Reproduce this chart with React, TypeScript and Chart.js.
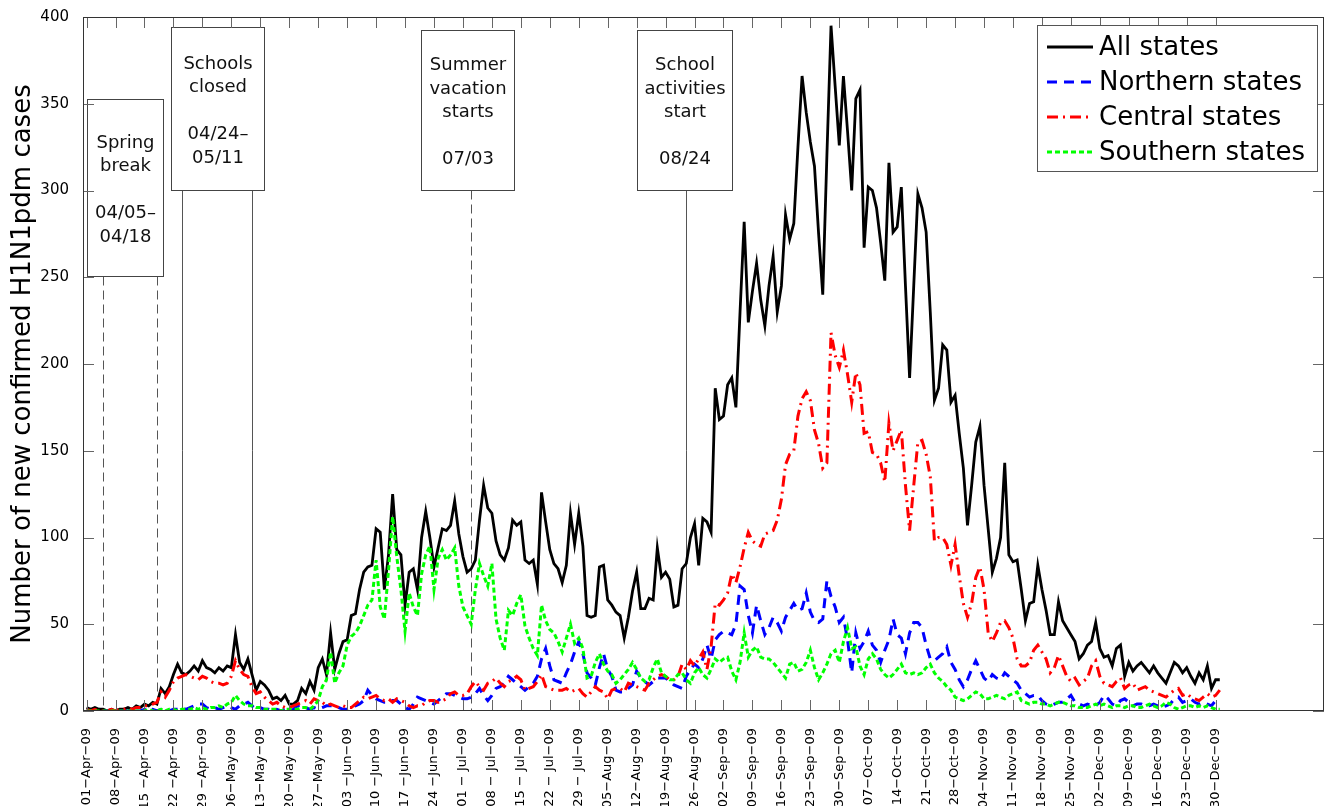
import React, { useEffect, useRef } from "react";
import { Chart, registerables } from "chart.js";

Chart.register(...registerables);

// Daily new confirmed cases, 01-Apr-09 (day 0) .. 31-Dec-09 (day 274)
const ALL_STATES = [
  2, 1, 2, 1, 1, 0, 1, 0, 1, 1,
  2, 1, 3, 2, 4, 3, 5, 4, 13, 10,
  14, 21, 27, 22, 21, 23, 26, 23, 29, 25,
  24, 22, 25, 23, 26, 25, 44, 28, 24, 30,
  21, 12, 17, 15, 12, 7, 8, 6, 9, 4,
  4, 6, 13, 10, 17, 12, 25, 30, 21, 45,
  24, 33, 40, 41, 55, 56, 70, 80, 83, 84,
  105, 103, 70, 90, 125, 93, 90, 61, 80, 82,
  70, 100, 115, 100, 83, 94, 105, 104, 107, 121,
  102, 89, 80, 82, 87, 110, 130, 117, 114, 98,
  90, 87, 94, 110, 107, 109, 87, 85, 87, 73,
  126, 109, 93, 85, 82, 74, 84, 114, 96, 114,
  95, 55, 54, 55, 83, 84, 64, 61, 57, 55,
  42, 54, 69, 80, 59, 59, 65, 64, 94, 77,
  80, 76, 60, 61, 82, 85, 100, 108, 84, 111,
  109, 103, 186, 168, 170, 188, 192, 175, 230, 282,
  224, 242, 258, 237, 222, 245, 262, 230, 245, 286,
  272, 281, 325, 366, 345, 328, 314, 275, 240, 320,
  395, 360, 326, 366, 334, 300, 353, 358, 267, 302,
  300, 290, 270, 248, 316, 276, 279, 302, 245, 192,
  245, 298, 290, 276, 230, 179, 186, 211, 208, 178,
  182, 160, 140, 107, 130, 155, 164, 130, 105, 80,
  88, 100, 143, 90, 86, 87, 70, 52, 62, 63,
  84, 70, 58, 44, 44, 63, 52, 48, 44, 40,
  30, 33, 38, 40, 51, 36, 31, 32, 26, 36,
  38, 20, 28, 23, 26, 28, 25, 22, 26, 22,
  19, 16, 22, 28, 26, 22, 25, 20, 16, 22,
  18, 26, 13, 18, 18,
];

const NORTHERN = [
  0, 0, 0, 0, 0, 0, 0, 1, 0, 0,
  0, 1, 0, 0, 1, 0, 1, 0, 1, 0,
  0, 1, 1, 2, 1, 2, 3, 4, 4, 2,
  1, 2, 1, 2, 3, 2, 1, 3, 4, 5,
  3, 1, 2, 1, 1, 0, 1, 0, 1, 0,
  1, 3, 3, 2, 1, 2, 1, 2, 3, 3,
  3, 2, 1, 1, 2, 3, 4, 6, 12, 9,
  7, 6, 5, 5, 6, 6, 4, 2, 1, 4,
  8, 7, 6, 5, 4, 6, 8, 10, 10, 9,
  8, 7, 7, 8, 10, 13, 9, 6, 9, 13,
  14, 16, 20, 18, 16, 14, 12, 14, 16, 20,
  30, 36, 26, 18, 17, 16, 22, 27, 34, 40,
  33, 22, 19, 15, 25, 33, 24, 20, 12, 11,
  11, 13, 15, 23, 19, 17, 15, 17, 19, 19,
  19, 17, 15, 14, 13, 20, 24, 27, 25, 30,
  38, 30, 41, 44, 46, 45, 44, 50, 72, 70,
  55, 45, 61, 52, 44, 48, 54, 51, 46, 54,
  58, 62, 58, 59, 68, 57, 52, 51, 53, 75,
  66, 60, 51, 54, 41, 22, 45, 36, 40, 46,
  38, 35, 28, 35, 41, 53, 44, 42, 33, 45,
  51, 51, 48, 38, 30, 29, 31, 33, 37, 28,
  24, 18, 14, 18, 24, 29, 24, 19, 17, 21,
  19, 18, 22, 20, 18, 16, 12, 10, 8, 9,
  9, 6, 4, 3, 4, 5, 5, 7, 9, 5,
  4, 3, 4, 3, 3, 5, 9, 7, 4, 3,
  6, 7, 5, 3, 4, 4, 3, 3, 4, 3,
  2, 3, 4, 7, 8, 5, 6, 7, 5, 4,
  5, 4, 3, 6, 7,
];

const CENTRAL = [
  1, 0, 1, 0, 0, 0, 1, 0, 1, 1,
  2, 1, 2, 2, 3, 3, 4, 5, 11, 8,
  12, 17, 19, 20, 21, 20, 19, 18, 20, 19,
  17, 16, 16, 15, 16, 20, 29, 24, 21, 20,
  14, 10, 11, 8, 6, 4, 5, 3, 2, 2,
  3, 4, 5, 6, 4, 7, 6, 5, 3, 4,
  3, 2, 3, 2, 2, 4, 6, 8, 7, 8,
  9, 7, 6, 7, 5, 7, 6, 5, 3, 2,
  3, 3, 5, 6, 6, 5, 6, 7, 10, 11,
  9, 9, 10, 14, 17, 14, 12, 16, 17, 19,
  16, 14, 17, 18, 20, 18, 12, 13, 14, 17,
  21, 14, 13, 12, 12, 12, 13, 11, 12, 13,
  10, 8, 11, 14, 12, 11, 7, 12, 13, 13,
  11, 16, 15, 14, 13, 12, 16, 18, 20, 21,
  20, 18, 18, 20, 27, 24, 29, 26, 30, 34,
  24, 37, 62, 61, 64, 68, 79, 74, 83, 94,
  103, 98, 96, 95, 102, 103, 104, 110, 122, 142,
  148, 150, 170, 180, 184, 179, 162, 154, 140, 143,
  218, 205, 198, 208, 194, 178, 195, 188, 160, 161,
  149, 148, 143, 132, 166, 150, 156, 162, 130, 104,
  130, 155, 156, 148, 135, 98, 100, 100, 96, 84,
  96, 78, 62, 54, 62, 77, 83, 70, 45, 40,
  45, 51, 52, 48, 42, 30, 26, 26, 28, 35,
  38, 34, 30, 22, 25, 32, 26, 20, 17, 19,
  15, 17, 19, 26, 29, 20, 16, 15, 14, 17,
  19, 13, 15, 16, 12, 13, 14, 12, 11, 10,
  9, 8, 10, 12, 13, 9, 10, 8, 7, 6,
  8, 10, 8, 9, 12,
];

const SOUTHERN = [
  0, 0, 0, 0, 0, 0, 0, 0, 0, 0,
  0, 0, 0, 0, 0, 1, 0, 0, 1, 0,
  1, 1, 0, 1, 1, 1, 2, 1, 2, 1,
  2, 2, 3, 2, 4, 5, 9, 6, 4, 3,
  3, 2, 2, 1, 1, 1, 1, 0, 1, 1,
  1, 1, 2, 2, 1, 3, 6, 14, 18, 34,
  16, 22, 26, 38, 43, 45, 49, 55, 61, 64,
  87, 60, 53, 81, 112, 89, 70, 46, 68, 60,
  55, 79, 90, 95, 70, 88, 93, 87, 90, 94,
  72, 60, 55, 50, 70, 85, 78, 72, 85, 53,
  42, 35, 58, 55, 62, 67, 49, 42, 36, 32,
  61, 52, 47, 45, 40, 34, 42, 50, 39, 42,
  36, 19, 20, 28, 33, 27, 23, 21, 16, 18,
  21, 24, 28, 24, 19, 17, 18, 25, 30, 22,
  20, 18, 18, 21, 22, 18, 16, 22, 25, 21,
  19, 24, 30, 28, 30, 31, 23, 18, 28, 45,
  31, 35, 37, 31, 30, 30, 28, 25, 22, 19,
  27, 28, 23, 24, 28, 35, 25, 18, 22, 27,
  33, 35, 28, 40, 48, 36, 37, 26, 21, 30,
  33, 30, 24, 21, 19, 21, 24, 27, 22, 21,
  22, 21, 22, 25, 27, 22, 19, 17, 14, 12,
  8, 7, 6, 7, 9, 11, 10, 7, 7, 8,
  9, 8, 7, 9, 10, 11, 6, 5, 4, 5,
  5, 4, 4, 3, 4, 5, 5, 4, 3, 3,
  2, 2, 2, 3, 4, 3, 4, 3, 2, 3,
  3, 2, 3, 3, 2, 2, 3, 4, 3, 2,
  3, 5, 4, 2, 1, 2, 3, 3, 2, 3,
  2, 3, 2, 1, 1,
];

// Weekly tick labels (one per 7 days starting at day 0)
const TICK_LABELS = [
  "01−Apr−09", "08−Apr−09", "15 −Apr−09", "22 −Apr−09", "29 −Apr−09",
  "06−May−09", "13−May−09", "20−May−09", "27−May−09",
  "03 −Jun−09", "10 −Jun−09", "17 −Jun−09", "24 −Jun−09",
  "01 − Jul−09", "08 − Jul−09", "15 − Jul−09", "22 − Jul−09", "29 − Jul−09",
  "05−Aug−09", "12−Aug−09", "19−Aug−09", "26−Aug−09",
  "02−Sep−09", "09−Sep−09", "16−Sep−09", "23−Sep−09", "30−Sep−09",
  "07−Oct−09", "14−Oct−09", "21−Oct−09", "28−Oct−09",
  "04−Nov−09", "11−Nov−09", "18−Nov−09", "25−Nov−09",
  "02−Dec−09", "09−Dec−09", "16−Dec−09", "23−Dec−09", "30−Dec−09",
];

const SERIES_NAMES = ["All states", "Northern states", "Central states", "Southern states"];

// Event annotations (days since 01-Apr-09)
const EVENTS = [
  { text: ["Spring", "break", "", "04/05–", "04/18"], days: [4, 17], dashed: true, box: [0.1, 18.5, 250.7, 352.7] },
  { text: ["Schools", "closed", "", "04/24–", "05/11"], days: [23, 40], dashed: false, box: [20.4, 42.9, 300.3, 394.2] },
  { text: ["Summer", "vacation", "starts", "", "07/03"], days: [93], dashed: true, box: [80.85, 103.3, 300.3, 392.5] },
  { text: ["School", "activities", "start", "", "08/24"], days: [145], dashed: false, box: [133.0, 156.0, 300.3, 392.5] },
];

const FONT = "'DejaVu Sans', sans-serif";

const annotationPlugin = {
  id: "events",
  beforeDatasetsDraw(chart: any) {
    const { ctx, chartArea, scales } = chart;
    const { x, y } = scales;
    ctx.save();
    for (const ev of EVENTS) {
      const [d0, d1, v0, v1] = ev.box;
      const bx0 = Math.round(x.getPixelForValue(d0)) + 0.5;
      const bx1 = Math.round(x.getPixelForValue(d1)) + 0.5;
      const byTop = Math.round(y.getPixelForValue(v1)) + 0.5;
      const byBot = Math.round(y.getPixelForValue(v0)) + 0.5;
      ctx.strokeStyle = "#555";
      ctx.lineWidth = 1;
      ctx.setLineDash(ev.dashed ? [9, 5] : []);
      for (const d of ev.days) {
        const px = Math.round(x.getPixelForValue(d)) + 0.5;
        ctx.beginPath();
        ctx.moveTo(px, byBot);
        ctx.lineTo(px, chartArea.bottom);
        ctx.stroke();
      }
      ctx.setLineDash([]);
      ctx.fillStyle = "#fff";
      ctx.fillRect(bx0, byTop, bx1 - bx0, byBot - byTop);
      ctx.strokeStyle = "#444";
      ctx.strokeRect(bx0, byTop, bx1 - bx0, byBot - byTop);
      ctx.fillStyle = "#111";
      ctx.font = `18px ${FONT}`;
      ctx.textAlign = "center";
      ctx.textBaseline = "middle";
      const lh = 23.5;
      const cx = (bx0 + bx1) / 2;
      const cy = (byTop + byBot) / 2;
      const n = ev.text.length;
      ev.text.forEach((t, i) => {
        ctx.fillText(t, cx, cy + (i - (n - 1) / 2) * lh + 2);
      });
    }
    ctx.restore();
  },
};

const framePlugin = {
  id: "frame",
  afterDatasetsDraw(chart: any) {
    const { ctx, chartArea, scales } = chart;
    const { left, right, top, bottom } = chartArea;
    const { x, y } = scales;
    ctx.save();
    ctx.strokeStyle = "#666";
    ctx.lineWidth = 1;
    ctx.beginPath();
    const tl = 11;
    for (const t of x.ticks) {
      const px = Math.round(x.getPixelForValue(t.value)) + 0.5;
      ctx.moveTo(px, bottom);
      ctx.lineTo(px, bottom - tl);
      ctx.moveTo(px, top);
      ctx.lineTo(px, top + tl);
    }
    for (const t of y.ticks) {
      const py = Math.round(y.getPixelForValue(t.value)) + 0.5;
      ctx.moveTo(left, py);
      ctx.lineTo(left + tl, py);
      ctx.moveTo(right, py);
      ctx.lineTo(right - tl, py);
    }
    ctx.stroke();
    ctx.strokeStyle = "#333";
    ctx.strokeRect(Math.round(left) + 0.5, Math.round(top) + 0.5, Math.round(right - left) - 1, Math.round(bottom - top) - 1);

    // legend
    const lx0 = 1037.5, ly0 = 25.5, lx1 = 1317.5, ly1 = 171.5;
    ctx.fillStyle = "#fff";
    ctx.fillRect(lx0, ly0, lx1 - lx0, ly1 - ly0);
    ctx.strokeStyle = "#555";
    ctx.strokeRect(lx0, ly0, lx1 - lx0, ly1 - ly0);
    ctx.font = `26px ${FONT}`;
    ctx.textAlign = "left";
    ctx.textBaseline = "middle";
    chart.data.datasets.forEach((ds: any, i: number) => {
      const yy = 47 + i * 35;
      ctx.strokeStyle = ds.borderColor;
      ctx.lineWidth = ds.borderWidth;
      ctx.setLineDash(ds.borderDash || []);
      ctx.beginPath();
      ctx.moveTo(1047, yy);
      ctx.lineTo(1093, yy);
      ctx.stroke();
      ctx.setLineDash([]);
      ctx.fillStyle = "#000";
      ctx.fillText(ds.label, 1099, yy + 1);
    });
    ctx.restore();
  },
};

export default function App() {
  const ref = useRef<HTMLCanvasElement | null>(null);

  useEffect(() => {
    if (!ref.current) return;
    const toPts = (arr: number[]) => arr.map((v, i) => ({ x: i, y: v }));
    const chart = new Chart(ref.current, {
      type: "line",
      data: {
        datasets: [
          { label: SERIES_NAMES[0], data: toPts(ALL_STATES), borderColor: "#000000", borderWidth: 2.8, borderDash: [], order: 4 },
          { label: SERIES_NAMES[1], data: toPts(NORTHERN), borderColor: "#0000ff", borderWidth: 3, borderDash: [10, 7], order: 3 },
          { label: SERIES_NAMES[2], data: toPts(CENTRAL), borderColor: "#ff0000", borderWidth: 3, borderDash: [11, 5, 2, 5], order: 2 },
          { label: SERIES_NAMES[3], data: toPts(SOUTHERN), borderColor: "#00ff00", borderWidth: 3, borderDash: [5, 3], order: 1 },
        ] as any,
      },
      options: {
        animation: false,
        responsive: false,
        events: [],
        elements: { point: { radius: 0 }, line: { tension: 0, borderCapStyle: "butt", borderJoinStyle: "miter" } },
        layout: { padding: { left: 0, top: 17, right: 1, bottom: 0 } },
        plugins: { legend: { display: false }, tooltip: { enabled: false } },
        scales: {
          x: {
            type: "linear",
            min: -0.87,
            max: 299.2,
            grid: { display: false },
            border: { display: false },
            afterBuildTicks: (scale: any) => {
              scale.ticks = TICK_LABELS.map((_, i) => ({ value: i * 7 }));
            },
            afterFit: (scale: any) => {
              scale.height = 95;
            },
            ticks: {
              autoSkip: false,
              minRotation: 90,
              maxRotation: 90,
              padding: 9,
              color: "#000",
              font: { family: FONT, size: 13 },
              callback: (_v: any, i: number) => TICK_LABELS[i],
            },
          },
          y: {
            min: 0,
            max: 400,
            grid: { display: false },
            border: { display: false },
            afterFit: (scale: any) => {
              scale.width = 83;
            },
            ticks: {
              stepSize: 50,
              padding: 6,
              color: "#000",
              font: { family: FONT, size: 15 },
            },
            title: {
              display: true,
              text: "Number of new confirmed H1N1pdm cases",
              color: "#000",
              font: { family: FONT, size: 26 },
              padding: { top: 8, bottom: 0 },
            },
          },
        },
      } as any,
      plugins: [annotationPlugin, framePlugin],
    });
    return () => chart.destroy();
  }, []);

  return (
    <div style={{ position: "absolute", left: 0, top: 0, width: 1325, height: 806, background: "#fff" }}>
      <canvas ref={ref} width={1325} height={806} style={{ display: "block" }} />
    </div>
  );
}
